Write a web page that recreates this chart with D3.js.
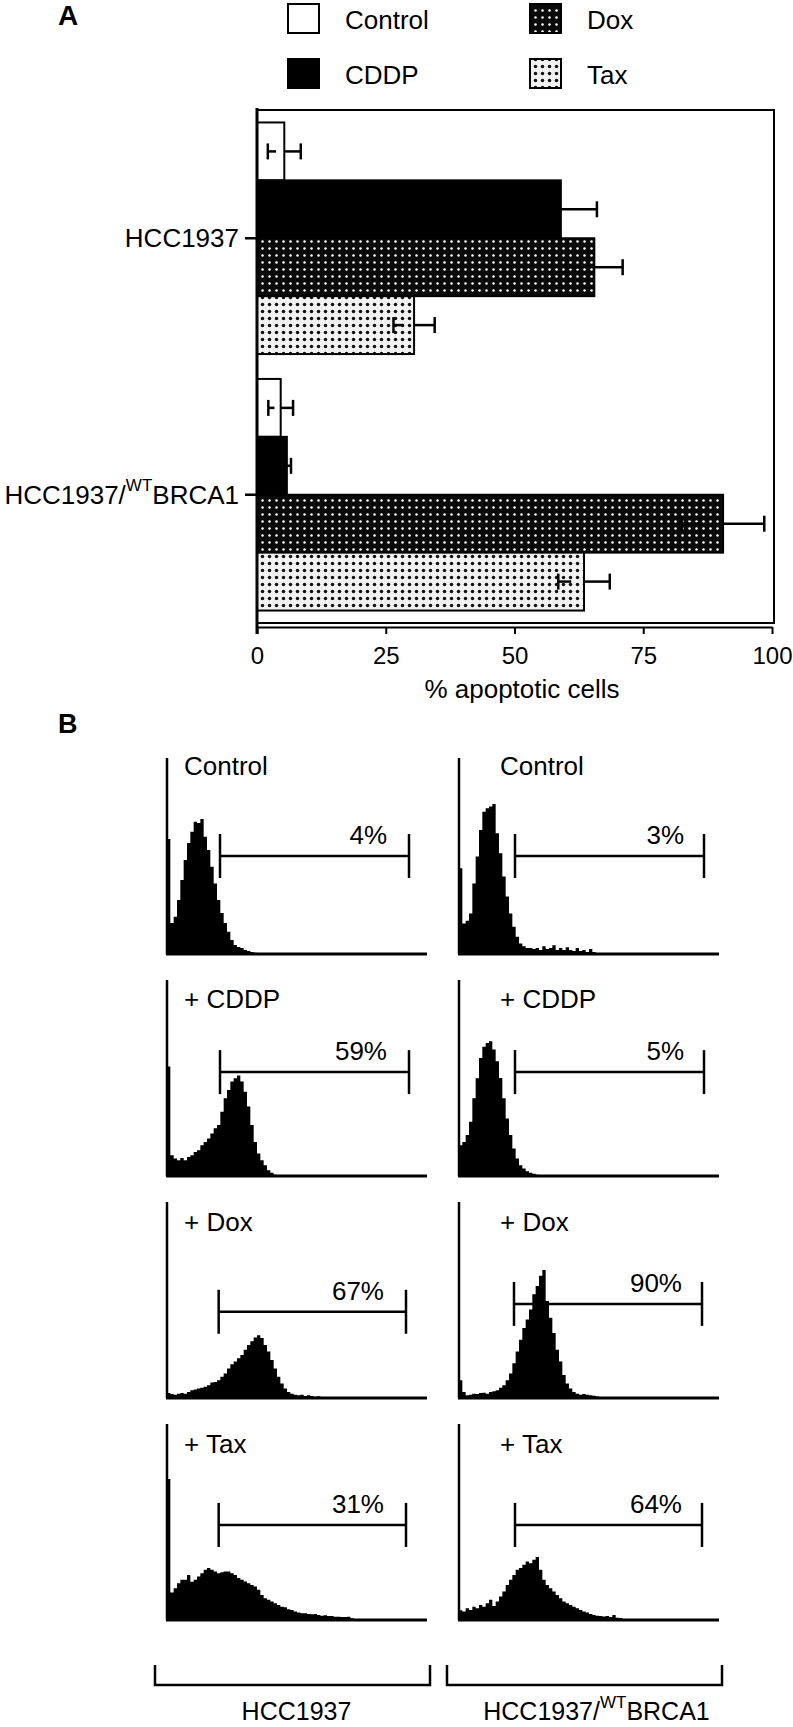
<!DOCTYPE html>
<html><head><meta charset="utf-8">
<script src="https://cdn.jsdelivr.net/npm/d3@7"></script>
<style>
body{margin:0;background:#fff}
svg{display:block}
text{font-family:"Liberation Sans",Arial,Helvetica,sans-serif;fill:#000}
</style>
</head><body>
<svg id="chart" width="793" height="1727"></svg>
<script>
// ================= DATA: panel A =================
const cellLines = ["HCC1937", "HCC1937/WTBRCA1"];
const treatments = ["Control", "CDDP", "Dox", "Tax"];
const apoptosisHCC = [5.3, 59, 65.5, 30.5];
const errorHCC = [3.2, 7, 5.5, 4];
const apoptosisWT = [4.6, 5.8, 90.5, 63.5];
const errorWT = [2.4, 0.8, 8, 5];
const xTicks = [0, 25, 50, 75, 100];
const xAxisTitle = "% apoptotic cells";

// ================= DATA: panel B =================
const panelLabels = ["Control", "+ CDDP", "+ Dox", "+ Tax"];
const gatePercentHCC = ["4%", "59%", "67%", "31%"];
const gatePercentWT = ["3%", "5%", "90%", "64%"];
// histogram bin heights (% of full scale), consecutive bins
const histHCC_Control = [58.7, 15.8, 19, 27.5, 37.8, 48, 56.6, 62.4, 67.5, 66.8, 68.9, 59.8, 53, 44.5, 36, 27.5, 20.9, 15.8, 11.4, 7.1, 4.6, 3.6, 3, 2, 1.5, 1, 0.6];
const histWT_Control = [43.7, 15.6, 17, 20.7, 36, 49.7, 63.3, 72.6, 74.3, 75.2, 76.5, 61.6, 51.4, 39.5, 29.3, 20.7, 13.9, 8.8, 5.4, 4, 3, 3, 2.5, 3, 2, 4, 2.5, 3, 4.5, 2, 3, 2, 3.5, 2, 1.5, 3, 1.5, 2, 1, 2.5, 1];
const histHCC_CDDP = [55.9, 10.6, 8.9, 8, 9.2, 8, 9.7, 10.6, 12.3, 13.2, 15.7, 17.4, 19.1, 21.7, 24.3, 26, 32.8, 39.7, 43.9, 48.2, 49.9, 51.3, 48.2, 43, 35.4, 26, 17.4, 11.5, 8, 5.5, 2.9, 1.7, 0.7];
const histWT_CDDP = [15.7, 17.4, 20.9, 27.7, 39.7, 49.9, 60.2, 66, 67.9, 68.7, 64.5, 58.5, 50, 39.7, 29.4, 20.9, 14, 8.9, 5.5, 3.8, 2.4, 1.7, 1.2, 0.7, 0.3];
const histHCC_Dox = [2.5, 2, 1.7, 2.2, 2.6, 2.2, 3.1, 4, 4.3, 4.8, 5.2, 5.7, 6.5, 7.9, 8.2, 9.1, 10.8, 12.5, 15.1, 17.2, 18.6, 20.3, 22, 24.6, 27.1, 28.9, 30.9, 32, 30.6, 27.1, 23.7, 19.4, 15.1, 10.8, 7.4, 4.8, 3.1, 2.2, 1.7, 1.4, 1.7, 1, 1.4, 1, 0.7, 0.9, 0.5];
const histWT_Dox = [9, 3, 1.4, 1.7, 2.2, 2, 2.6, 2.7, 2.2, 3.1, 3.4, 4, 5.2, 6.5, 9.1, 12.5, 17.7, 23.7, 29.7, 35.7, 40, 45.2, 52.9, 57.2, 62.4, 65.3, 49.5, 40.9, 33.2, 24.6, 18.6, 11.7, 7.4, 4.8, 3.1, 2.2, 1.7, 2, 1.7, 1.4, 1.2, 0.8];
const histHCC_Tax = [72, 14, 16.2, 18.8, 20.5, 20.5, 23, 19.5, 20.5, 22.2, 23.9, 25.6, 26.5, 25.6, 24.8, 23.9, 24.3, 24.8, 24.8, 23.9, 23, 21.4, 20.5, 19.7, 18.8, 17.9, 17.1, 15.4, 12.8, 11.1, 10.3, 9.4, 8.5, 7.7, 6.8, 6.5, 5.5, 5.1, 4.3, 3.8, 3.4, 3.4, 3.1, 2.9, 3.1, 2.6, 2.2, 2.4, 2, 2, 1.7, 1.7, 1.5, 1.5, 1.7, 0.9];
const histWT_Tax = [5, 4.3, 6, 5.1, 6.8, 6, 7.7, 6.8, 8.5, 10.3, 7.2, 9.4, 12, 14.5, 17.9, 20.5, 23, 25.6, 26.5, 28.2, 29.9, 29, 30.8, 32.1, 25.6, 20.5, 17.9, 16.2, 14.5, 12.8, 11.1, 9.4, 8.5, 7.7, 6.8, 6, 5.1, 4.3, 3.8, 3.1, 2.6, 2.2, 2, 1.8, 2, 1.5, 2.5, 1.2, 1, 0.5];
// gate markers (bin units) and level (% of scale)
const gateStartHCC = [15.9, 15.9, 15.5, 15.5];
const gateEndHCC = [72.6, 72.6, 71.7, 71.7];
const gateStartWT = [16.8, 16.8, 16.5, 16.8];
const gateEndWT = [73.5, 73.5, 72.9, 72.9];
const gateLevelHCC = [50, 53, 44, 48.5];
const gateLevelWT = [50, 53, 48, 48.5];
const histBins = 78;

const histHCC = [histHCC_Control, histHCC_CDDP, histHCC_Dox, histHCC_Tax];
const histWT = [histWT_Control, histWT_CDDP, histWT_Dox, histWT_Tax];

// ================= DRAW =================
const svg = d3.select("#chart");
const defs = svg.append("defs");

// patterns
const pDox = defs.append("pattern").attr("id","pDox").attr("patternUnits","userSpaceOnUse")
  .attr("width",7).attr("height",7);
pDox.append("rect").attr("width",7).attr("height",7).attr("fill","#0a0a0a");
pDox.append("circle").attr("cx",3.5).attr("cy",3.5).attr("r",1.25).attr("fill","#fff");
const pTax = defs.append("pattern").attr("id","pTax").attr("patternUnits","userSpaceOnUse")
  .attr("width",7).attr("height",7);
pTax.append("rect").attr("width",7).attr("height",7).attr("fill","#f2f2f2");
pTax.append("circle").attr("cx",3.5).attr("cy",3.5).attr("r",1.75).attr("fill","#111");

const fills = {Control:"#fff", CDDP:"#000", Dox:"url(#pDox)", Tax:"url(#pTax)"};

// ---- Panel A ----
svg.append("text").attr("x",58).attr("y",25).attr("font-size",28).attr("font-weight","bold").text("A");

// legend
const legend = svg.append("g");
treatments.forEach((t,i)=>{
  const col = Math.floor(i/2), row = i%2;
  const bx = [288,530][col], by = [4,59][row];
  legend.append("rect").attr("x",bx).attr("y",by).attr("width",31).attr("height",29)
    .attr("fill",fills[t]).attr("stroke","#000").attr("stroke-width",2);
  legend.append("text").attr("x",bx+57).attr("y",by+25).attr("font-size",26).text(t);
});

const x = d3.scaleLinear().domain([0,100]).range([257,772]);
const y = d3.scaleBand().domain(cellLines).range([110,623]).paddingInner(0.097).paddingOuter(0.0486);
const yi = d3.scaleBand().domain(treatments).range([0,y.bandwidth()]);

// frame
svg.append("rect").attr("x",257).attr("y",110).attr("width",774-257).attr("height",623-110)
  .attr("fill","none").attr("stroke","#000").attr("stroke-width",2);

const groups = [
  {line:cellLines[0], vals:apoptosisHCC, errs:errorHCC},
  {line:cellLines[1], vals:apoptosisWT, errs:errorWT}
];
groups.forEach(g=>{
  const gg = svg.append("g");
  treatments.forEach((t,i)=>{
    const v = g.vals[i], e = g.errs[i];
    const y0 = y(g.line)+yi(t), h = yi.bandwidth(), cy = y0+h/2;
    gg.append("rect").attr("x",x(0)).attr("y",y0).attr("width",x(v)-x(0)).attr("height",h)
      .attr("fill",fills[t]).attr("stroke","#000").attr("stroke-width",2);
    const eb = gg.append("g").attr("stroke","#000").attr("stroke-width",2.5).attr("fill","none");
    eb.append("line").attr("x1",x(v-e)).attr("x2",x(v-e/2)).attr("y1",cy).attr("y2",cy);
    eb.append("line").attr("x1",x(v)).attr("x2",x(v+e)).attr("y1",cy).attr("y2",cy);
    eb.append("line").attr("x1",x(v-e)).attr("x2",x(v-e)).attr("y1",cy-8).attr("y2",cy+8);
    eb.append("line").attr("x1",x(v+e)).attr("x2",x(v+e)).attr("y1",cy-8).attr("y2",cy+8);
  });
});

// x axis
const xa = svg.append("g").attr("transform","translate(0,627)")
  .call(d3.axisBottom(x).tickValues(xTicks).tickSize(7).tickSizeOuter(0).tickPadding(13));
xa.select(".domain").attr("stroke-width",2);
xa.selectAll(".tick line").attr("stroke-width",2);
xa.selectAll(".tick text").attr("font-size",24).attr("font-family",null);
xa.attr("font-family",null);
svg.append("text").attr("x",522).attr("y",698).attr("text-anchor","middle").attr("font-size",26).text(xAxisTitle);

// y axis
const ya = svg.append("g").attr("transform","translate(257,0)")
  .call(d3.axisLeft(y).tickSize(12).tickPadding(6));
ya.select(".domain").remove();
ya.attr("font-family",null);
ya.selectAll(".tick line").attr("stroke-width",2.5);
ya.selectAll(".tick text").attr("font-size",26).attr("dy","0.35em").each(function(d){
  const t = d3.select(this);
  const parts = d.split("/WT");
  if(parts.length===2){
    t.text(null);
    t.append("tspan").text(parts[0]+"/");
    t.append("tspan").attr("font-size",17).attr("dy",-13).text("WT");
    t.append("tspan").attr("dy",13).text(parts[1]);
  }
});
// left axis line
svg.append("line").attr("x1",257).attr("x2",257).attr("y1",108).attr("y2",634)
  .attr("stroke","#000").attr("stroke-width",3);

// ---- Panel B ----
svg.append("text").attr("x",58).attr("y",733).attr("font-size",27).attr("font-weight","bold").text("B");

const colAxisX = [167, 459];
const colLabelX = [184, 500];
const colPctOffset = [22, 20];
const rowBottom = d3.scaleLinear().domain([0,3]).range([954,1620]);
const rowLabelDy = [179, 168, 167, 167];
const panelH = 196, panelW = 260;

const columns = [
  {hists:histHCC, gs:gateStartHCC, ge:gateEndHCC, gl:gateLevelHCC, pct:gatePercentHCC},
  {hists:histWT, gs:gateStartWT, ge:gateEndWT, gl:gateLevelWT, pct:gatePercentWT}
];

columns.forEach((c,ci)=>{
  const ax = colAxisX[ci];
  const hx = d3.scaleLinear().domain([0,histBins]).range([ax, ax+panelW]);
  c.hists.forEach((h,ri)=>{
    const bottom = rowBottom(ri);
    const hy = d3.scaleLinear().domain([0,100]).range([bottom, bottom-panelH]);
    const g = svg.append("g");
    const data = h.concat([0]);
    const area = d3.area().curve(d3.curveStepAfter)
      .x((d,i)=>hx(i)).y0(bottom).y1(d=>hy(d));
    g.append("path").datum(data).attr("d",area).attr("fill","#000");
    // axes
    g.append("line").attr("x1",ax).attr("x2",ax).attr("y1",hy(100)).attr("y2",bottom)
      .attr("stroke","#000").attr("stroke-width",2.5);
    g.append("line").attr("x1",ax-1).attr("x2",hx(histBins)).attr("y1",bottom).attr("y2",bottom)
      .attr("stroke","#000").attr("stroke-width",3);
    // label
    g.append("text").attr("x",colLabelX[ci]).attr("y",bottom-rowLabelDy[ri]).attr("font-size",26).text(panelLabels[ri]);
    // gate
    const gy = hy(c.gl[ri]), gx1 = hx(c.gs[ri]), gx2 = hx(c.ge[ri]);
    const gate = g.append("g").attr("stroke","#000").attr("stroke-width",2.5);
    gate.append("line").attr("x1",gx1).attr("x2",gx2).attr("y1",gy).attr("y2",gy);
    gate.append("line").attr("x1",gx1).attr("x2",gx1).attr("y1",gy-22).attr("y2",gy+22);
    gate.append("line").attr("x1",gx2).attr("x2",gx2).attr("y1",gy-22).attr("y2",gy+22);
    g.append("text").attr("x",gx2-colPctOffset[ci]).attr("y",gy-12).attr("text-anchor","end")
      .attr("font-size",26).text(c.pct[ri]);
  });
  // bracket
  const bx1 = ax-12, bx2 = ax+263;
  svg.append("path").attr("d",`M${bx1},1665V1685H${bx2}V1665`).attr("fill","none")
    .attr("stroke","#000").attr("stroke-width",2.5);
  const lbl = svg.append("text").attr("x",(bx1+bx2)/2 + [4,12][ci]).attr("y",1720)
    .attr("text-anchor","middle").attr("font-size",25);
  const parts = cellLines[ci].split("/WT");
  if(parts.length===2){
    lbl.append("tspan").text(parts[0]+"/");
    lbl.append("tspan").attr("font-size",17).attr("dy",-12).text("WT");
    lbl.append("tspan").attr("dy",12).text(parts[1]);
  } else lbl.text(cellLines[ci]);
});
</script>
</body></html>
